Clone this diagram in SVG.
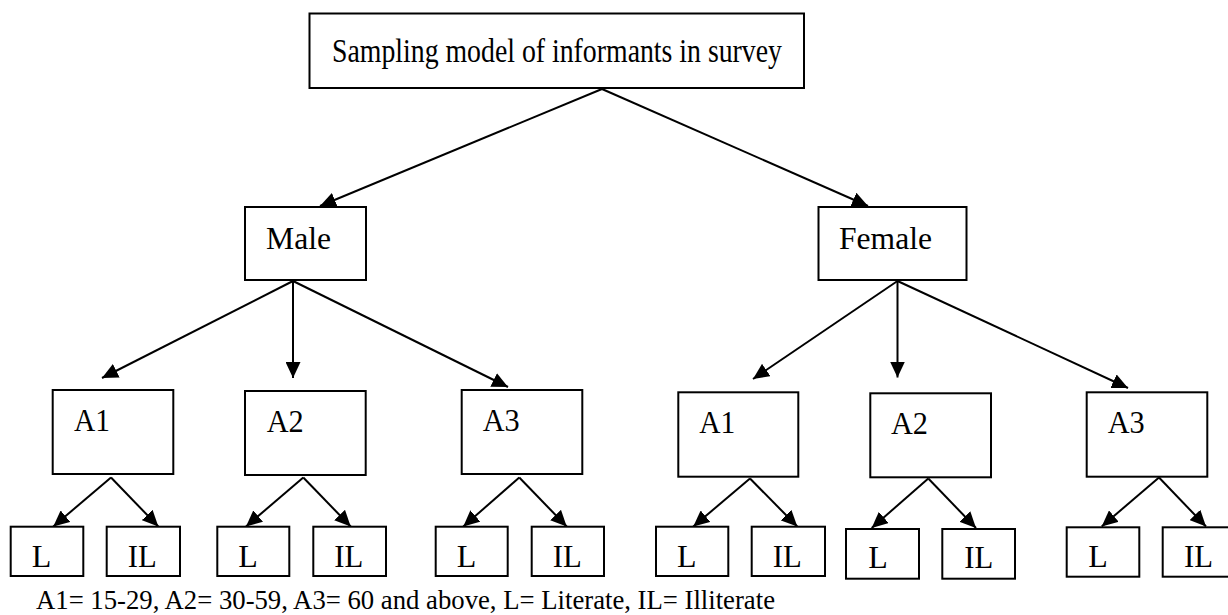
<svg xmlns="http://www.w3.org/2000/svg" width="1228" height="615" viewBox="0 0 1228 615">
<style>
.box{fill:#fff;stroke:#000;stroke-width:2}
.t{font-family:"Liberation Serif","Times New Roman",serif;fill:#000}
.n{font-size:32px}
.title{font-size:34px}
.note{font-size:28px}
.c line{stroke:#000;stroke-width:2;marker-end:url(#ah)}
</style>
<defs>
<marker id="ah" viewBox="0 0 16 15" refX="16" refY="7.5" markerWidth="16" markerHeight="15" markerUnits="userSpaceOnUse" orient="auto">
<path d="M0,0 L16,7.5 L0,15 z" fill="#000"/>
</marker>
</defs>
<rect width="1228" height="615" fill="#fff"/>
<g class="c" id="connectors">
<line x1="602" y1="89" x2="320" y2="206"/>
<line x1="602" y1="89" x2="868" y2="206"/>
<line x1="293" y1="281" x2="102" y2="378"/>
<line x1="293" y1="281" x2="293" y2="378"/>
<line x1="293" y1="281" x2="508" y2="387"/>
<line x1="897.5" y1="281" x2="753" y2="379"/>
<line x1="897.5" y1="281" x2="897.5" y2="377.5"/>
<line x1="897.5" y1="281" x2="1128" y2="388"/>
<line x1="111" y1="477.5" x2="53.3" y2="526.5"/>
<line x1="111" y1="477.5" x2="158.3" y2="526.5"/>
<line x1="303.3" y1="477.5" x2="246" y2="526.5"/>
<line x1="303.3" y1="477.5" x2="350.7" y2="526.5"/>
<line x1="519.3" y1="477.5" x2="463.3" y2="526.5"/>
<line x1="519.3" y1="477.5" x2="566.7" y2="526.5"/>
<line x1="750" y1="478.5" x2="693.3" y2="526.5"/>
<line x1="750" y1="478.5" x2="797.3" y2="526.5"/>
<line x1="928.3" y1="478.5" x2="871.7" y2="528"/>
<line x1="928.3" y1="478.5" x2="976" y2="528"/>
<line x1="1159" y1="477.5" x2="1101.7" y2="526.5"/>
<line x1="1159" y1="477.5" x2="1206" y2="526.5"/>
</g>
<g id="root"><rect class="box" x="309.5" y="13.5" width="494.5" height="74.5"/><text class="t title" x="332" y="62" textLength="450" lengthAdjust="spacingAndGlyphs">Sampling model of informants in survey</text></g>
<g id="male"><rect class="box" x="245" y="207" width="121" height="73"/><text class="t n" x="266" y="249" textLength="65" lengthAdjust="spacingAndGlyphs">Male</text></g>
<g id="female"><rect class="box" x="818.5" y="207" width="148" height="73"/><text class="t n" x="839" y="249" textLength="93" lengthAdjust="spacingAndGlyphs">Female</text></g>
<g id="m-a1"><rect class="box" x="52.7" y="390" width="120.6" height="84"/><text class="t n" x="74" y="431" textLength="36" lengthAdjust="spacingAndGlyphs">A1</text></g>
<g id="m-a2"><rect class="box" x="245" y="391" width="120.7" height="84"/><text class="t n" x="266.7" y="431.7" textLength="37" lengthAdjust="spacingAndGlyphs">A2</text></g>
<g id="m-a3"><rect class="box" x="461.7" y="390" width="120.6" height="84"/><text class="t n" x="482.7" y="430.7" textLength="37" lengthAdjust="spacingAndGlyphs">A3</text></g>
<g id="f-a1"><rect class="box" x="678.3" y="392.3" width="120" height="84.4"/><text class="t n" x="699.3" y="433.3" textLength="36" lengthAdjust="spacingAndGlyphs">A1</text></g>
<g id="f-a2"><rect class="box" x="870.3" y="393.3" width="120.7" height="84"/><text class="t n" x="891" y="434.3" textLength="37" lengthAdjust="spacingAndGlyphs">A2</text></g>
<g id="f-a3"><rect class="box" x="1086.7" y="392.3" width="120.6" height="84.4"/><text class="t n" x="1107.7" y="432.7" textLength="37" lengthAdjust="spacingAndGlyphs">A3</text></g>
<g id="m-a1-l"><rect class="box" x="10.7" y="526.7" width="72.6" height="49.3"/><text class="t n" x="31.7" y="566.7">L</text></g>
<g id="m-a1-il"><rect class="box" x="106.7" y="526.7" width="73.3" height="49.3"/><text class="t n" x="127.7" y="566.7" textLength="29" lengthAdjust="spacingAndGlyphs">IL</text></g>
<g id="m-a2-l"><rect class="box" x="217.3" y="526.7" width="72" height="49.3"/><text class="t n" x="238.3" y="566.7">L</text></g>
<g id="m-a2-il"><rect class="box" x="313.3" y="526.7" width="72.7" height="49.3"/><text class="t n" x="334.3" y="566.7" textLength="29" lengthAdjust="spacingAndGlyphs">IL</text></g>
<g id="m-a3-l"><rect class="box" x="435.7" y="526.7" width="72" height="49.3"/><text class="t n" x="456.7" y="566.7">L</text></g>
<g id="m-a3-il"><rect class="box" x="531.7" y="526.7" width="72.3" height="49.3"/><text class="t n" x="552.7" y="566.7" textLength="29" lengthAdjust="spacingAndGlyphs">IL</text></g>
<g id="f-a1-l"><rect class="box" x="656" y="526.7" width="72.3" height="49.3"/><text class="t n" x="677" y="566.7">L</text></g>
<g id="f-a1-il"><rect class="box" x="751.7" y="526.7" width="73.3" height="49.3"/><text class="t n" x="772.7" y="566.7" textLength="29" lengthAdjust="spacingAndGlyphs">IL</text></g>
<g id="f-a2-l"><rect class="box" x="846" y="529" width="73" height="49.7"/><text class="t n" x="868.3" y="567.7">L</text></g>
<g id="f-a2-il"><rect class="box" x="942.3" y="529" width="72.7" height="49.7"/><text class="t n" x="964.3" y="567.7" textLength="29" lengthAdjust="spacingAndGlyphs">IL</text></g>
<g id="f-a3-l"><rect class="box" x="1066.7" y="527.3" width="72.6" height="49.4"/><text class="t n" x="1088.3" y="566.7">L</text></g>
<g id="f-a3-il"><rect class="box" x="1162.7" y="527.3" width="72.6" height="49.4"/><text class="t n" x="1184" y="566.7" textLength="29" lengthAdjust="spacingAndGlyphs">IL</text></g>
<text class="t note" x="36" y="609" textLength="739" lengthAdjust="spacingAndGlyphs">A1= 15-29, A2= 30-59, A3= 60 and above, L= Literate, IL= Illiterate</text>
</svg>
